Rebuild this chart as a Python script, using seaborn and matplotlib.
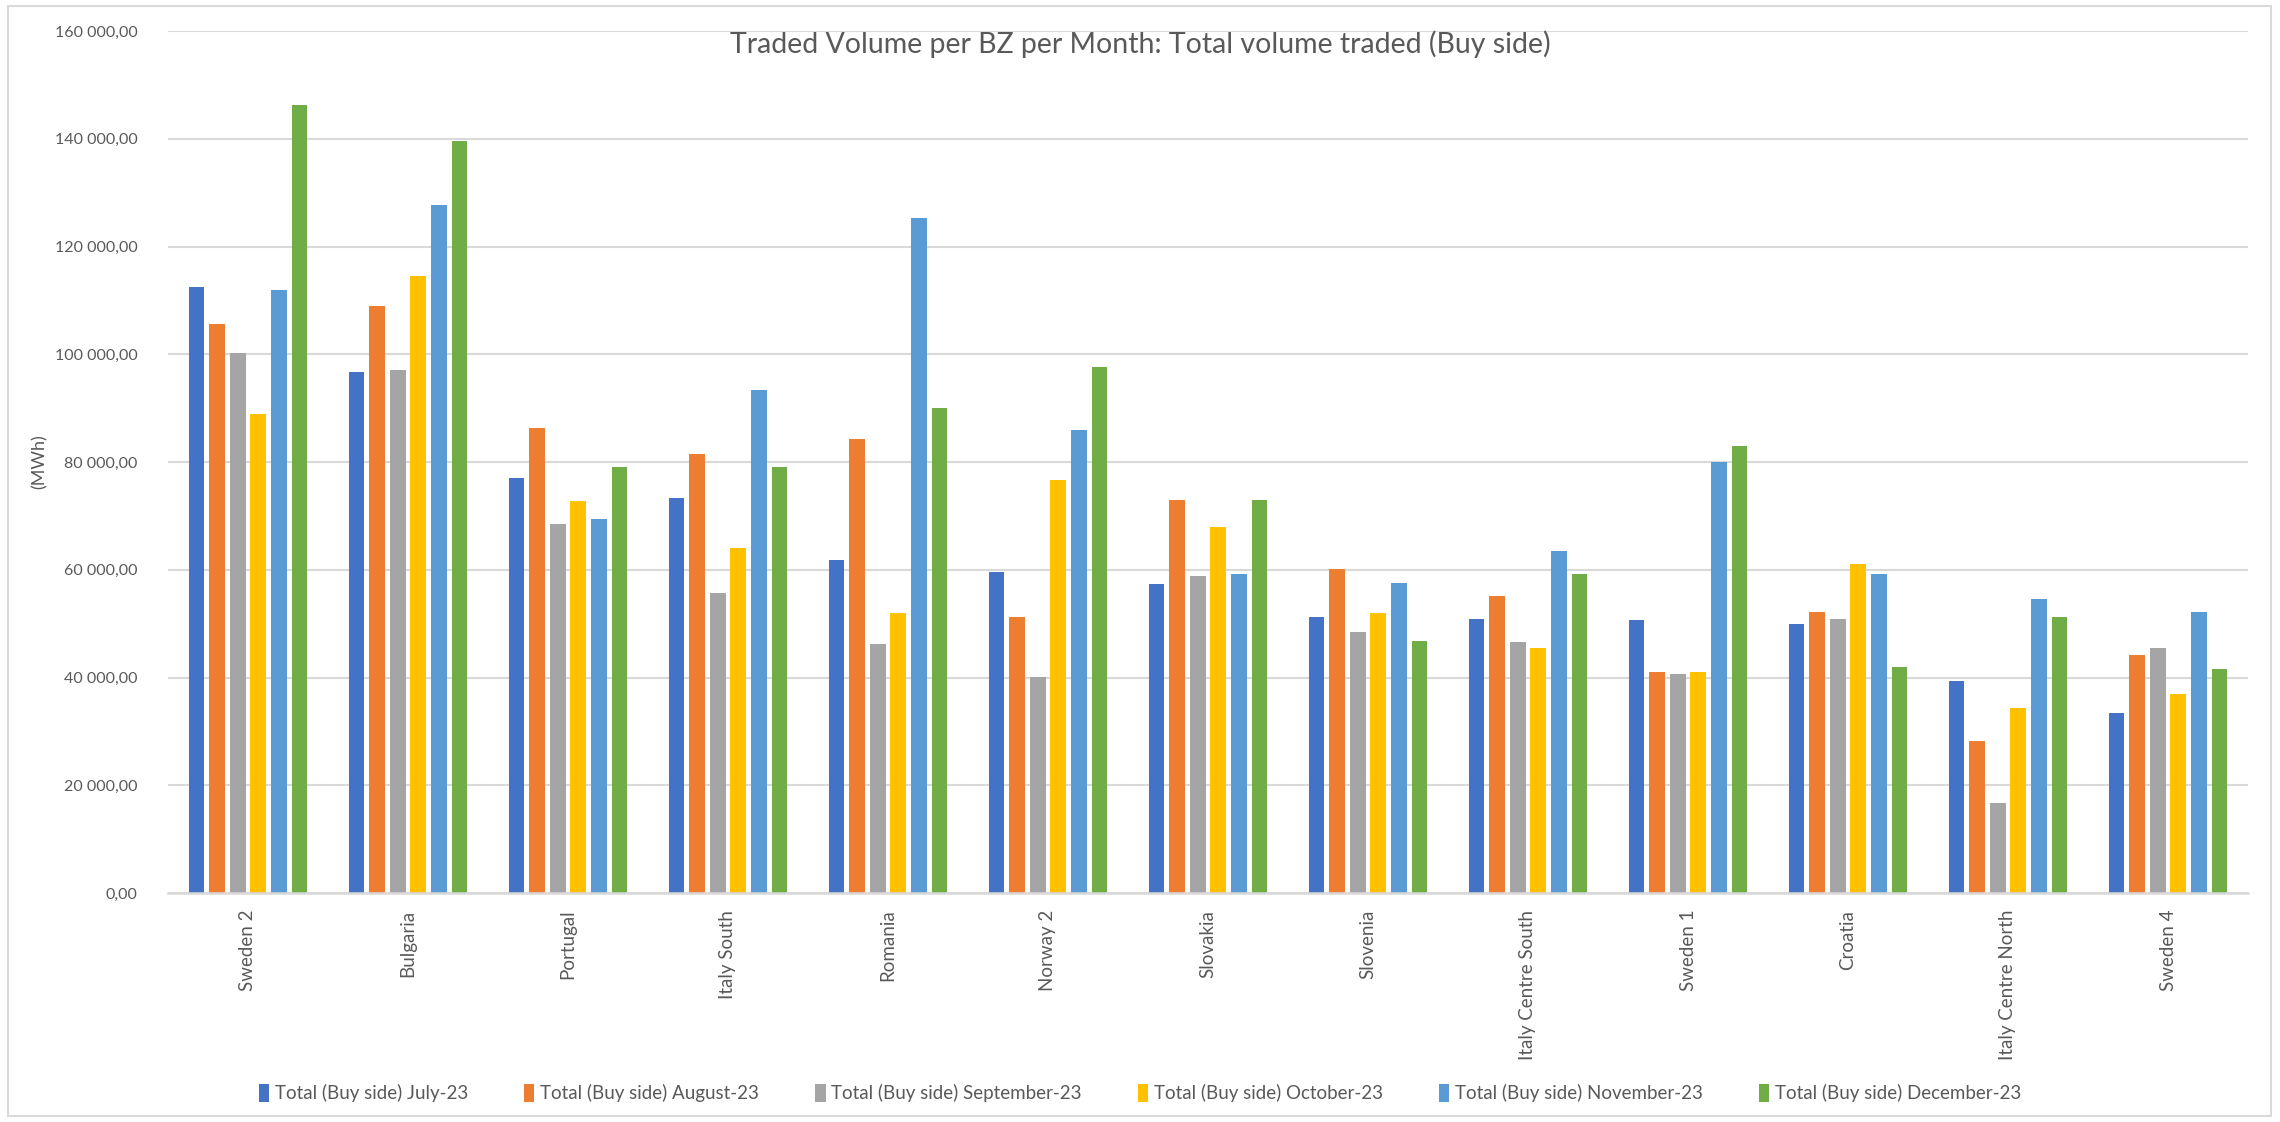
import numpy as np
import pandas as pd
import matplotlib
matplotlib.use("Agg")
import matplotlib.pyplot as plt
from matplotlib.patches import Patch, Rectangle
from matplotlib.ticker import FuncFormatter, MultipleLocator
import seaborn as sns

zones = ["Sweden 2", "Bulgaria", "Portugal", "Italy South", "Romania", "Norway 2",
         "Slovakia", "Slovenia", "Italy Centre South", "Sweden 1", "Croatia",
         "Italy Centre North", "Sweden 4"]
months = ["Total (Buy side) July-23", "Total (Buy side) August-23",
          "Total (Buy side) September-23", "Total (Buy side) October-23",
          "Total (Buy side) November-23", "Total (Buy side) December-23"]
jul = [112400, 96700, 77100, 73400, 61800, 59600, 57300, 51300, 50900, 50600, 49900, 39400, 33400]
aug = [105700, 108900, 86400, 81400, 84300, 51300, 73000, 60200, 55100, 41100, 52200, 28300, 44200]
sep = [100200, 97000, 68500, 55700, 46200, 40100, 58900, 48400, 46500, 40700, 50900, 16700, 45500]
octo = [89000, 114600, 72700, 64100, 51900, 76600, 67900, 51900, 45500, 41100, 61100, 34300, 36900]
nov = [112000, 127700, 69500, 93300, 125300, 85900, 59200, 57600, 63400, 80000, 59200, 54500, 52200]
dec = [146300, 139600, 79100, 79100, 90000, 97700, 73000, 46700, 59200, 82900, 42000, 51300, 41600]
colors = ["#4472C4", "#ED7D31", "#A5A5A5", "#FFC000", "#5B9BD5", "#70AD47"]

series = [jul, aug, sep, octo, nov, dec]
df = pd.DataFrame({
    "zone": np.tile(zones, len(months)),
    "month": np.repeat(months, len(zones)),
    "value": np.concatenate(series),
})

sns.set_style("white")
plt.rcParams["font.family"] = ["Lato", "DejaVu Sans"]
text_col = "#595959"
grid_col = "#D9D9D9"

fig = plt.figure(figsize=(22.8, 11.22), dpi=100)
ax = fig.add_axes([168 / 2280, 1 - 893 / 1122, (2248 - 168) / 2280, (893 - 31) / 1122])

sns.barplot(data=df, x="zone", y="value", hue="month", order=zones, hue_order=months,
            palette=colors, saturation=1, width=0.77, legend=False, ax=ax)

for p in ax.patches:
    w = p.get_width()
    nw = w * 16 / 21
    p.set_x(p.get_x() + (w - nw) / 2)
    p.set_width(nw)
    p.set_linewidth(0)

ax.set_ylim(0, 160000)
ax.set_xlim(-0.5, len(zones) - 0.5)
ax.yaxis.set_major_locator(MultipleLocator(20000))
ax.yaxis.set_major_formatter(FuncFormatter(lambda v, pos: f"{v:,.2f}".replace(",", " ").replace(".", ",")))
ax.grid(axis="y", color=grid_col, linewidth=1.5)
ax.set_axisbelow(True)
for s in ["top", "right", "left"]:
    ax.spines[s].set_visible(False)
ax.spines["bottom"].set_color(grid_col)
ax.spines["bottom"].set_linewidth(1.8)
ax.tick_params(axis="y", length=0, pad=22, labelsize=11.5, labelcolor=text_col)
ax.tick_params(axis="x", length=0, pad=12, labelsize=13.5, labelcolor=text_col, rotation=90)
ax.set_xlabel("")
ax.set_ylabel("(MWh)", fontsize=13, color=text_col, labelpad=18)
ax.yaxis.set_label_coords(-0.058, 0.5)

fig.text(1140 / 2280, 1 - 44 / 1122, "Traded Volume per BZ per Month: Total volume traded (Buy side)",
         ha="center", va="center", fontsize=20.5, color=text_col)

handles = [Patch(facecolor=c, edgecolor="none", label=m) for c, m in zip(colors, months)]
fig.legend(handles=handles, loc="center", bbox_to_anchor=(1140 / 2280, 1 - 1093 / 1122), ncol=6,
           frameon=False, fontsize=13.5, labelcolor=text_col, handlelength=0.55, handleheight=1.1,
           handletextpad=0.3, columnspacing=3.0)

fig.patches.append(Rectangle((8 / 2280, 6 / 1122), (2271 - 8) / 2280, (1116 - 6) / 1122,
                             transform=fig.transFigure, fill=False, edgecolor=grid_col, linewidth=1.5))

fig.savefig("out.png", dpi=100, facecolor="white")
